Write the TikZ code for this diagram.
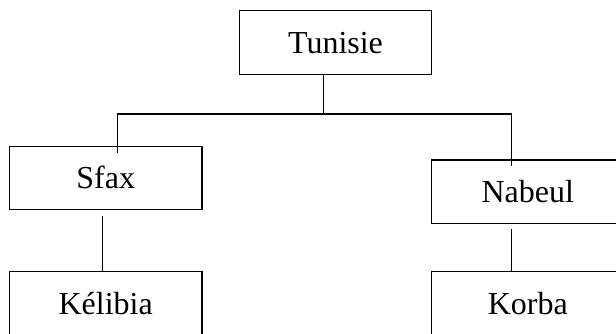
\documentclass[tikz,border=0pt]{standalone}
\usepackage{fontspec}
\setmainfont{Liberation Serif}
\tikzset{
    townbox/.style={draw, line width=1.4pt, minimum width=192.4pt, minimum height=63.5pt,
        inner sep=0pt, text height=21.5pt, text depth=0pt,
        font=\fontsize{32}{36}\selectfont},
    link/.style={line width=1.4pt}
}

\begin{document}
\begin{tikzpicture}[x=1pt, y=-1pt]

    \useasboundingbox (0,0) rectangle (616,333);
    \clip (0,0) rectangle (616,333);

    \draw(335.5,42.5) node[townbox] (tun) {Tunisie};
    \draw(105.7,178) node[townbox] (sfax) {Sfax};
    \draw(527.8,191.7) node[townbox] (nab) {Nabeul};
    \draw(105.7,303.5) node[townbox] (kel) {Kélibia};
    \draw(527.8,303.5) node[townbox] (kor) {Korba};

    \coordinate (fork) at (323.7,114);
    \coordinate (sfaxin) at (117.3,152.7);
    \coordinate (nabin) at (511.7,166);
    \coordinate (kelout) at (102.7,215.7);
    \coordinate (korout) at (511.7,229);

    \draw[link] (tun.south -| fork) -- (fork);
    \draw[link] (sfaxin) |- (fork) -| (nabin);
    \draw[link] (kelout) -- (kel.north -| kelout);
    \draw[link] (korout) -- (kor.north -| korout);

\end{tikzpicture}
\end{document}
